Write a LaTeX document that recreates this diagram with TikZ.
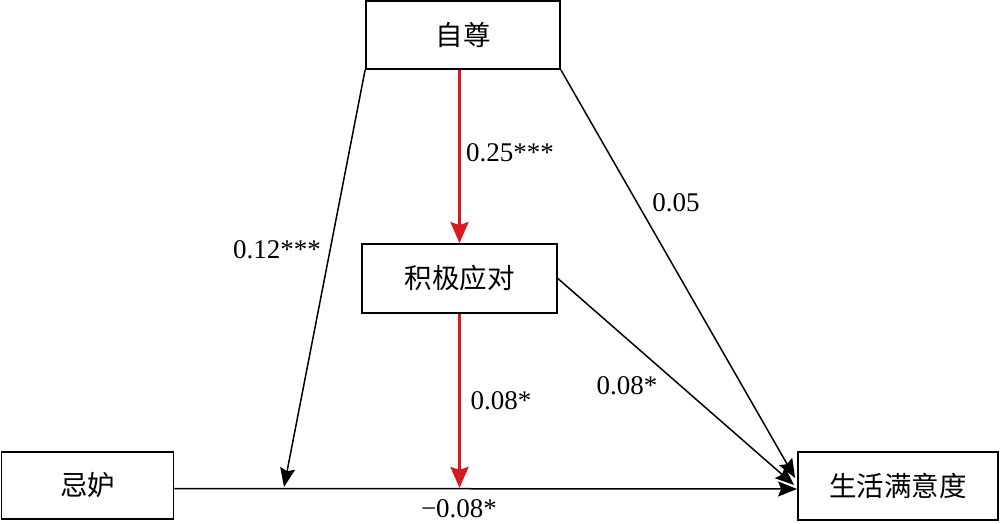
\documentclass[tikz,border=0pt]{standalone}
\usepackage{fontspec}
\setmainfont{Liberation Serif}
\newfontfamily\cjk{Noto Sans CJK SC}
\usetikzlibrary{arrows.meta,calc}
\definecolor{pathred}{RGB}{215,25,32}
\begin{document}
\begin{tikzpicture}[x=1pt,y=-1pt,
  box/.style={draw=black,line width=1.8pt,minimum width=#1,inner sep=0pt,font=\cjk\fontsize{27.5}{30}\selectfont},
  conn/.style={draw=black,line width=1.5pt,-{Stealth[length=19pt,width=15pt,inset=3pt]}},
  redconn/.style={draw=pathred,line width=2.8pt,-{Stealth[length=21pt,width=18pt,inset=3pt]}},
  lab/.style={font=\fontsize{27}{30}\selectfont,inner sep=0pt}]
\useasboundingbox (0,0) rectangle (1000,523);
\node[box=194pt,minimum height=68pt] (zz) at (463,35) {自尊};
\node[box=195pt,minimum height=69pt] (jj) at (459.5,278.5) {积极应对};
\node[box=172pt,minimum height=67pt] (jd) at (87.5,485.5) {忌妒};
\node[box=200pt,minimum height=68pt] (sh) at (898,486) {生活满意度};
\coordinate (m1) at (284,487);
\coordinate (m2) at ($(jj.south)+(0,174)$);
% direct path
\draw[conn] ([yshift=-3pt]jd.east) -- ([yshift=-3pt]sh.west);
% moderator arrow
\draw[conn] (zz.south west) -- (m1);
% red paths
\draw[redconn] (jj.north |- zz.south) -- (jj.north);
\draw[redconn] (jj.south) -- (m2);
% to outcome
\draw[conn] (zz.south east) -- ($(sh.west)+(-2,-8)$);
\draw[conn] (jj.east) -- ($(sh.west)+(-3,-1)$);
% labels
\node[lab] (l1) at (510,153) {0.25***};
\node[lab] (l2) at (676,203) {0.05};
\node[lab] (l3) at (277,250) {0.12***};
\node[lab] (l4) at (501,401) {0.08*};
\node[lab] (l5) at (627,386) {0.08*};
\node[lab] (l6) at (459,509) {−0.08*};
\end{tikzpicture}
\end{document}
